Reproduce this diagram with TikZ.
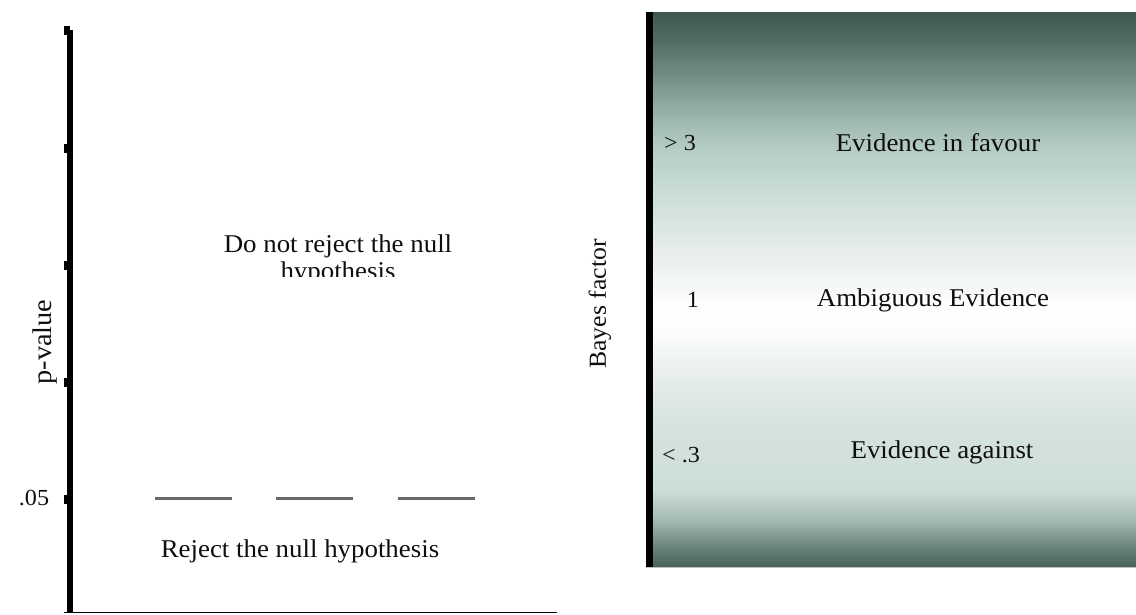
\documentclass[tikz,border=0pt]{standalone}
\usepackage{fontspec}
\setmainfont{Liberation Serif}[FakeStretch=1.05]
\definecolor{gA}{RGB}{62,88,80}
\definecolor{gB}{RGB}{80,108,100}
\definecolor{gC}{RGB}{118,146,138}
\definecolor{gD}{RGB}{158,184,177}
\definecolor{gE}{RGB}{182,205,198}
\definecolor{gF}{RGB}{206,223,218}
\definecolor{gG}{RGB}{230,237,234}
\definecolor{gH}{RGB}{255,255,255}
\definecolor{gI}{RGB}{250,252,251}
\definecolor{gJ}{RGB}{231,238,236}
\definecolor{gK}{RGB}{214,227,224}
\definecolor{gL}{RGB}{205,222,218}
\definecolor{gM}{RGB}{165,186,180}
\definecolor{gN}{RGB}{110,135,128}
\definecolor{gO}{RGB}{72,98,90}
\definecolor{dashgray}{RGB}{105,105,105}
\definecolor{txt}{RGB}{15,15,15}
\tikzset{
  lbl/.style={inner sep=0pt, text=txt, font=\fontsize{25.6}{29}\selectfont},
  numlbl/.style={inner sep=0pt, text=txt, font=\fontsize{23}{27}\selectfont},
  dashseg/.style={draw=dashgray, line width=3pt},
}
\newcommand{\bandseg}[4]{\shade[top color=#3, bottom color=#4] (646,#1) rectangle (1136,#2);}
\begin{document}
\begin{tikzpicture}[x=1pt,y=-1pt]
\useasboundingbox (0,0) rectangle (1136,614);
% ---- right panel gradient
\bandseg{12}{40}{gA}{gB}
\bandseg{40}{80}{gB}{gC}
\bandseg{80}{120}{gC}{gD}
\bandseg{120}{150}{gD}{gE}
\bandseg{150}{200}{gE}{gF}
\bandseg{200}{250}{gF}{gG}
\bandseg{250}{310}{gG}{gH}
\bandseg{310}{335}{gH}{gI}
\bandseg{335}{375}{gI}{gJ}
\bandseg{375}{425}{gJ}{gK}
\bandseg{425}{490}{gK}{gL}
\bandseg{490}{520}{gL}{gM}
\bandseg{520}{545}{gM}{gN}
\bandseg{545}{566.5}{gN}{gO}
\fill[black] (646,12) rectangle (653,566.5);
\draw[black!25, line width=1pt] (646,567) -- (1136,567);
% ---- left axis
\coordinate (ytop) at (70,30);
\coordinate (ybot) at (70,612);
\coordinate (xend) at (557,612.5);
\draw[line width=6pt] (ytop) -- (ybot);
\draw[line width=1.2pt] (64,612.5) -- (xend);
\foreach \t in {30,148,265,382,499} {
  \fill[black] (64,\t-4.5) rectangle (70,\t+4.5);
}
% ---- dashed threshold
\coordinate (d1a) at (155,498); \coordinate (d1b) at (232,498);
\coordinate (d2a) at (276,498); \coordinate (d2b) at (353,498);
\coordinate (d3a) at (398,498); \coordinate (d3b) at (475,498);
\draw[dashseg] (d1a) -- (d1b);
\draw[dashseg] (d2a) -- (d2b);
\draw[dashseg] (d3a) -- (d3b);
% ---- left texts
\node[lbl, rotate=90, font=\fontsize{27}{30}\selectfont] (pv) at (45,342) {p-value};
\node[numlbl] (p05) at (34,498) {.05};
\begin{scope}
\clip (150,225) rectangle (530,276);
\node[lbl, align=center, font=\fontsize{25.6}{27}\selectfont, anchor=north] (dnr) at (338,235) {Do not reject the null\\hypothesis};
\end{scope}
\node[lbl] (rej) at (300,551) {Reject the null hypothesis};
% ---- right texts
\node[lbl, rotate=90, font=\fontsize{24.5}{28}\selectfont] (bf) at (600,304) {Bayes factor};
\node[numlbl] (g3) at (680,143) {> 3};
\node[numlbl] (one) at (693,300) {1};
\node[numlbl] (l3) at (681,455) {< .3};
\node[lbl] (ef) at (938,143) {Evidence in favour};
\node[lbl] (ae) at (933,300) {Ambiguous Evidence};
\node[lbl] (ea) at (942,452) {Evidence against};
\end{tikzpicture}
\end{document}
